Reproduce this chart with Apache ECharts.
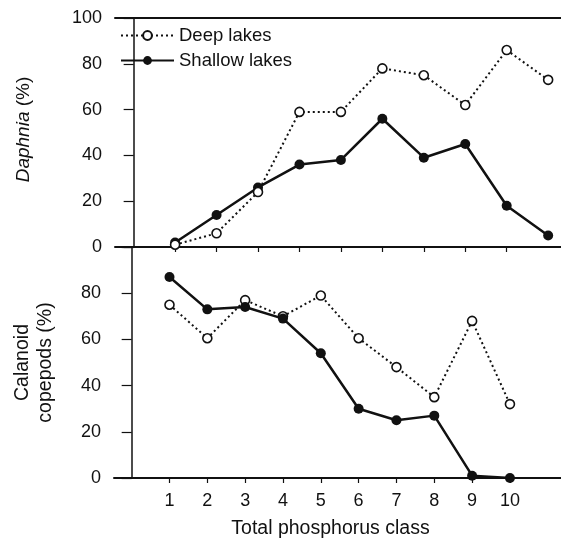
<!DOCTYPE html>
<html>
<head>
<meta charset="utf-8">
<script src="https://cdn.jsdelivr.net/npm/echarts@6/dist/echarts.min.js"></script>
<style>
  html, body { margin: 0; padding: 0; background: #fff; }
  #chart { width: 561px; height: 542px; }
</style>
</head>
<body>
<div id="chart"></div>
<script>
// Total phosphorus classes
const classes = [1, 2, 3, 4, 5, 6, 7, 8, 9, 10];
const classTicksTop = [1, 2, 3, 4, 5, 6, 7, 8, 9];

// Daphnia share (%) of zooplankton
const daphniaDeep    = [1, 6, 24, 59, 59, 78, 75, 62, 86, 73];
const daphniaShallow = [2, 14, 26, 36, 38, 56, 39, 45, 18, 5];

// Calanoid copepod share (%)
const calanoidDeep    = [75, 60.5, 77, 70, 79, 60.5, 48, 35, 68, 32];
const calanoidShallow = [87, 73, 74, 69, 54, 30, 25, 27, 1, 0];

const FONT = '"Liberation Sans", Arial, Helvetica, sans-serif';
const INK = '#111';

const pairs = (xs, ys) => xs.map((x, i) => [x, ys[i]]);

const deepLine = { color: INK, width: 2, type: [2, 3] };
const shallowLine = { color: INK, width: 2.5, type: 'solid' };
const deepItem = { color: '#fff', borderColor: INK, borderWidth: 1.6 };
const shallowItem = { color: INK, borderColor: INK, borderWidth: 0 };

const yAxisBase = {
  type: 'value',
  min: 0,
  max: 100,
  interval: 20,
  axisLine: { show: true, lineStyle: { color: INK, width: 1.5 } },
  axisTick: { show: true, length: 10, lineStyle: { color: INK, width: 1.2 } },
  axisLabel: { color: INK, fontSize: 18, fontFamily: FONT, margin: 13 },
  splitLine: { show: false },
  nameLocation: 'middle',
  nameRotate: 90,
  nameTextStyle: { color: INK, fontSize: 19, fontFamily: FONT }
};

const chart = echarts.init(document.getElementById('chart'), null, { renderer: 'canvas' });

chart.setOption({
  animation: false,
  backgroundColor: '#fff',
  textStyle: { fontFamily: FONT },
  legend: {
    orient: 'vertical',
    left: 120,
    top: 26,
    padding: 0,
    itemWidth: 53,
    itemHeight: 11,
    itemGap: 6,
    textStyle: { color: INK, fontSize: 18.5, fontFamily: FONT },
    data: ['Deep lakes', 'Shallow lakes']
  },
  grid: [
    { left: 115, top: 18, right: 0, height: 229 },
    { left: 114, top: 247, right: 0, height: 231 }
  ],
  xAxis: [
    {
      type: 'value', gridIndex: 0, min: -0.45, max: 10.31,
      axisLine: { show: true, onZero: false, lineStyle: { color: INK, width: 2 } },
      axisTick: { show: true, length: 5, customValues: classTicksTop, lineStyle: { color: INK, width: 1.2 } },
      axisLabel: { show: false },
      splitLine: { show: false }
    },
    {
      type: 'value', gridIndex: 0, position: 'top', min: -0.45, max: 10.31,
      axisLine: { show: true, onZero: false, lineStyle: { color: INK, width: 2 } },
      axisTick: { show: false },
      axisLabel: { show: false },
      splitLine: { show: false }
    },
    {
      type: 'value', gridIndex: 1, min: -0.467, max: 11.35,
      axisLine: { show: true, onZero: false, lineStyle: { color: INK, width: 2 } },
      axisTick: { show: true, length: 5, customValues: classes, lineStyle: { color: INK, width: 1.2 } },
      axisLabel: { show: true, customValues: classes, color: INK, fontSize: 18, fontFamily: FONT, margin: 14 },
      splitLine: { show: false },
      name: 'Total phosphorus class',
      nameLocation: 'middle',
      nameGap: 41,
      nameTextStyle: { color: INK, fontSize: 19.5, fontFamily: FONT, padding: [0, 14, 0, 0] }
    }
  ],
  yAxis: [
    Object.assign({}, yAxisBase, {
      gridIndex: 0,
      name: '{i|Daphnia} (%)',
      nameGap: 82,
      nameTextStyle: {
        color: INK, fontSize: 19, fontFamily: FONT, padding: [0, 0, 0, 6],
        rich: { i: { fontStyle: 'italic', fontSize: 19, fontFamily: FONT, color: INK } }
      }
    }),
    Object.assign({}, yAxisBase, {
      gridIndex: 1,
      axisLabel: {
        color: INK, fontSize: 18, fontFamily: FONT, margin: 13,
        formatter: v => (v === 100 ? '' : String(v))
      },
      name: 'Calanoid\ncopepods (%)',
      nameGap: 57,
      nameTextStyle: { color: INK, fontSize: 19.5, fontFamily: FONT, lineHeight: 23 }
    })
  ],
  series: [
    {
      name: 'Deep lakes', type: 'line', xAxisIndex: 0, yAxisIndex: 0,
      data: pairs(classes, daphniaDeep),
      symbol: 'circle', symbolSize: 9, showAllSymbol: true,
      lineStyle: deepLine, itemStyle: deepItem, z: 3
    },
    {
      name: 'Shallow lakes', type: 'line', xAxisIndex: 0, yAxisIndex: 0,
      data: pairs(classes, daphniaShallow),
      symbol: 'circle', symbolSize: 10, showAllSymbol: true,
      lineStyle: shallowLine, itemStyle: shallowItem, z: 2
    },
    {
      name: 'Deep lakes', type: 'line', xAxisIndex: 2, yAxisIndex: 1,
      data: pairs(classes, calanoidDeep),
      symbol: 'circle', symbolSize: 9, showAllSymbol: true,
      lineStyle: deepLine, itemStyle: deepItem, z: 2
    },
    {
      name: 'Shallow lakes', type: 'line', xAxisIndex: 2, yAxisIndex: 1,
      data: pairs(classes, calanoidShallow),
      symbol: 'circle', symbolSize: 10, showAllSymbol: true,
      lineStyle: shallowLine, itemStyle: shallowItem, z: 3
    }
  ]
});
</script>
</body>
</html>
